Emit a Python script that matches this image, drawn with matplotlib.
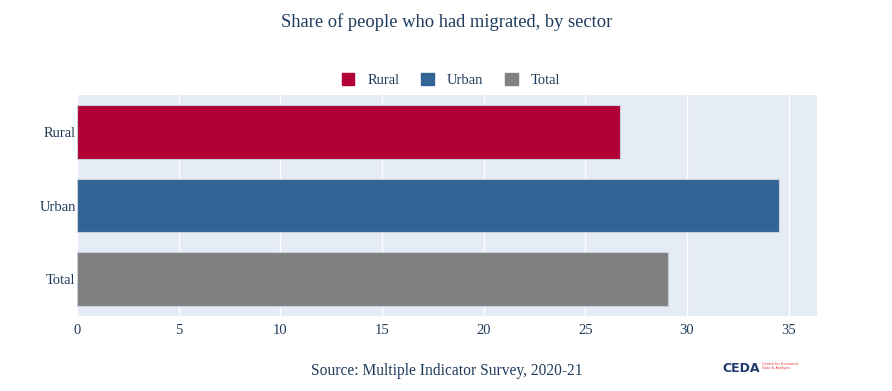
import matplotlib
matplotlib.use("Agg")
import matplotlib.pyplot as plt
from matplotlib.patches import Patch

categories = ["Rural", "Urban", "Total"]
values = [26.7, 34.55, 29.05]
colors = ["#b00035", "#326596", "#808080"]
xticks = [0, 5, 10, 15, 20, 25, 30, 35]

plt.rcParams['font.family'] = ['Liberation Serif', 'DejaVu Serif']
navy = "#1f3b5c"

fig = plt.figure(figsize=(8.92, 3.91), dpi=100)
W, H = 892, 391
ax = fig.add_axes([77/W, 1 - 316/H, (817-77)/W, (316-95)/H])
ax.set_facecolor("#e5ecf6")
ypos = list(range(len(categories)))
ax.barh(ypos, values, height=0.73, color=colors, edgecolor="#c8d0dc", linewidth=0.8, zorder=3)
ax.set_yticks(ypos)
ax.set_yticklabels(categories)
ax.set_ylim(len(categories) - 0.5, -0.5)
ax.set_xlim(0, 36.4)
ax.set_xticks(xticks)
ax.grid(axis='x', color='white', linewidth=1.0, zorder=0)
for s in ax.spines.values():
    s.set_visible(False)
ax.tick_params(axis='both', length=0, labelsize=10.5, colors=navy, pad=1)
ax.tick_params(axis='x', pad=6)

fig.text(447/W, 1 - 22/H, "Share of people who had migrated, by sector",
         ha='center', va='center', fontsize=13.3, color=navy)

handles = [Patch(facecolor=c, edgecolor=c) for c in colors]
leg = fig.legend(handles, categories, loc='center', bbox_to_anchor=(451/W, 1 - 80/H),
                 ncol=3, frameon=False, fontsize=10.5, handlelength=0.85, handleheight=0.85,
                 columnspacing=1.5, handletextpad=0.9)
for t in leg.get_texts():
    t.set_color(navy)

fig.text(447/W, 1 - 371/H, "Source: Multiple Indicator Survey, 2020-21",
         ha='center', va='center', fontsize=11.2, color=navy)

fig.text(722/W, 1 - 369/H, "CEDA", ha='left', va='center', fontsize=9,
         fontweight='bold', color="#1f3b6e", family=['DejaVu Sans'])
fig.text(762/W, 1 - 366/H, "Centre for Economic\nData & Analysis", ha='left', va='center',
         fontsize=2.5, color="#e03030", family=['DejaVu Sans'], linespacing=1.2)

fig.savefig("out.png", dpi=100)
